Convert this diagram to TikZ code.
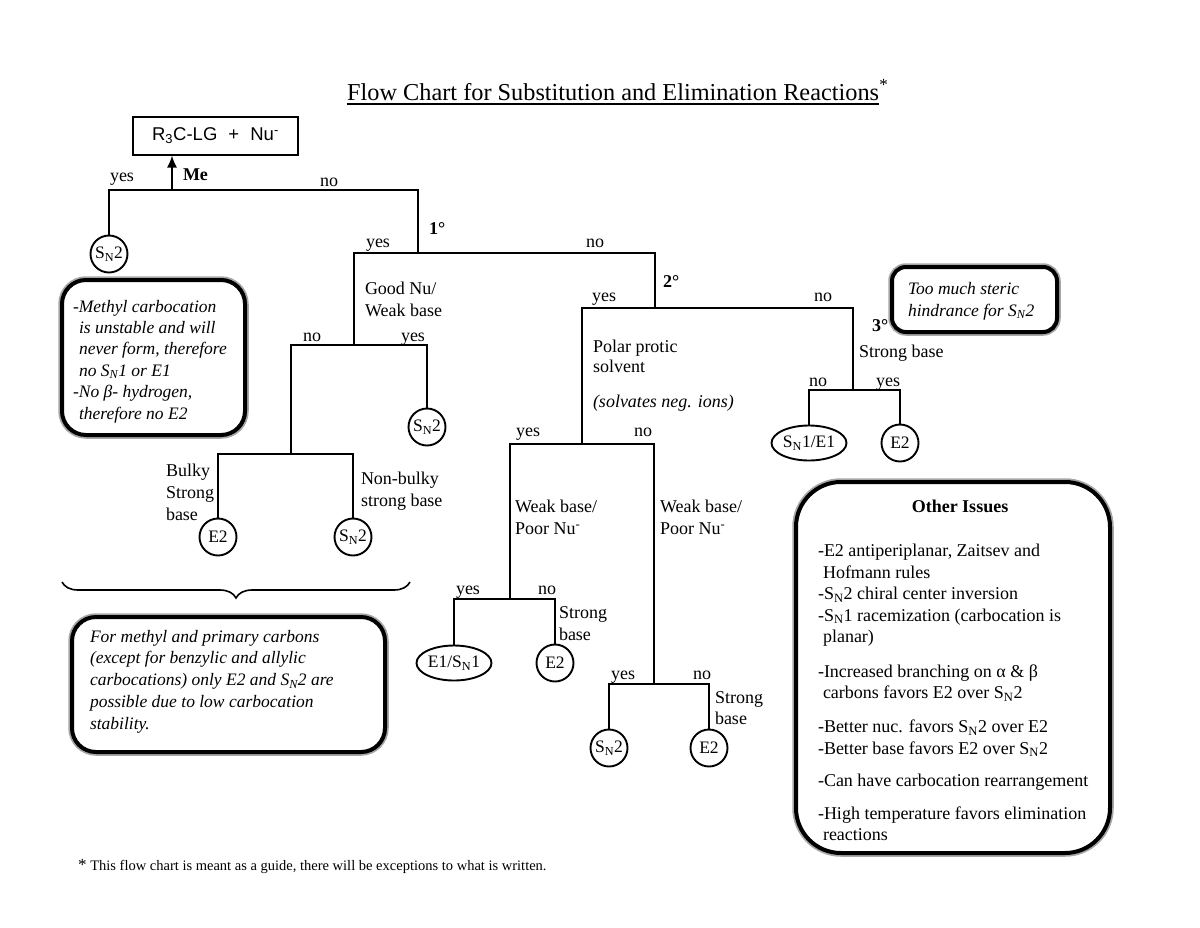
\documentclass[tikz,border=0pt]{standalone}
\usepackage{fontspec}
\setmainfont{Liberation Serif}
\newfontfamily\arialfont{Liberation Sans}
\usetikzlibrary{shapes.geometric,decorations.pathreplacing,arrows.meta,calc}
\begin{document}
\begin{tikzpicture}[x=1pt,y=-1pt,
  conn/.style={line width=1.8pt},
  word/.style={font=\fontsize{18}{21.5}\selectfont, inner sep=0pt, outer sep=0pt, text height=12.5pt, text depth=3.5pt},
  block/.style={font=\fontsize{18}{22}\selectfont, inner sep=0pt, outer sep=0pt, align=left, anchor=north west},
  iblock/.style={font=\fontsize{17.5}{21.6}\selectfont\itshape, inner sep=0pt, outer sep=0pt, align=left, anchor=north west},
  deg/.style={font=\fontsize{18}{21.5}\selectfont\bfseries, inner sep=0pt, outer sep=0pt, anchor=west, text height=12.5pt, text depth=3.5pt},
  res/.style={draw, line width=1.9pt, circle, minimum size=37pt, inner sep=0pt, font=\fontsize{17.5}{18}\selectfont},
  rese/.style={draw, line width=1.9pt, ellipse, minimum width=75pt, minimum height=35pt, inner sep=0pt, font=\fontsize{17.5}{18}\selectfont},
  heavybox/.style={draw=black, line width=4pt, preaction={draw=black!35, line width=7.5pt}, fill=white, inner sep=0pt},
]
\useasboundingbox[fill=white] (0,0) rectangle (1200,927);

% title
\node[font=\fontsize{24.3}{28}\selectfont, anchor=base west, inner sep=0pt] (ttl) at (347,100) {Flow Chart for Substitution and Elimination Reactions};
\node[font=\fontsize{24.3}{28}\selectfont, anchor=base west, inner sep=0pt] (ast) at (ttl.base east) {\textsuperscript{*}};
\draw[line width=1.6pt] ($(ttl.base west)+(0,4)$) -- ($(ttl.base east)+(0,4)$);

% start box
\node[draw, line width=2pt, minimum width=165pt, minimum height=38pt, inner sep=0pt, font=\arialfont\fontsize{18.5}{20}\selectfont] (rbox) at (215.5,135.5) {R\textsubscript{3}C-LG\hspace{0.6em}+\hspace{0.6em}Nu\textsuperscript{-}};

% junctions
\coordinate (me) at (172,190);
\coordinate (c1) at (418,253);
\coordinate (c2a) at (354,345);
\coordinate (c3) at (291,454);
\coordinate (c2) at (655,308);
\coordinate (c4) at (582,444);
\coordinate (c6) at (510,599);
\coordinate (c7) at (654,684);
\coordinate (c5) at (853,390);

% result nodes
\node[res] (sn2a) at (109,254) {S\textsubscript{N}2};
\node[res] (sn2b) at (427,427) {S\textsubscript{N}2};
\node[res] (e2a) at (218,537) {E2};
\node[res] (sn2c) at (353,537) {S\textsubscript{N}2};
\node[rese] (e1sn1) at (454,663) {E1/S\textsubscript{N}1};
\node[res] (e2b) at (555,663) {E2};
\node[res] (sn2d) at (609,748) {S\textsubscript{N}2};
\node[res] (e2c) at (709,748) {E2};
\node[rese] (sn1e1) at (809,443) {S\textsubscript{N}1/E1};
\node[res] (e2d) at (900,443) {E2};

% connectors
\draw[conn, -{Latex[length=12pt,width=10pt]}] (me) -- (me |- rbox.south);
\draw[conn] (sn2a) |- (me) -| (c1);
\draw[conn] (c2a) |- (c1) -| (c2);
\draw[conn] (c3) |- (c2a) -| (sn2b);
\draw[conn] (e2a) |- (c3) -| (sn2c);
\draw[conn] (c4) |- (c2) -| (c5);
\draw[conn] (c6) |- (c4) -| (c7);
\draw[conn] (e1sn1) |- (c6) -| (e2b);
\draw[conn] (sn2d) |- (c7) -| (e2c);
\draw[conn] (sn1e1) |- (c5) -| (e2d);

% labels
\node[word] (l1) at (122,177) {yes};
\node[deg] (lme) at (183,176) {Me};
\node[word] (l2) at (329,182) {no};
\node[deg] (d1) at (429,230) {1°};
\node[word] (l3) at (378,243) {yes};
\node[word] (l4) at (595,243) {no};
\node[block] (gnu) at (365,282) {Good Nu/\\Weak base};
\node[word] (l5) at (312,337) {no};
\node[word] (l6) at (413,337) {yes};
\node[block] (bulky) at (166,464) {Bulky\\Strong\\base};
\node[block] (nonb) at (361,472) {Non-bulky\\strong base};
\node[deg] (d2) at (663,283) {2°};
\node[word] (l7) at (604,297) {yes};
\node[word] (l8) at (823,297) {no};
\node[block, font=\fontsize{18}{20}\selectfont] (ppro) at (593,340) {Polar protic\\solvent};
\node[word, anchor=west, font=\fontsize{18}{21.5}\selectfont\itshape] (solv) at (593,403) {(solvates neg. ions)};
\node[word] (l9) at (528,432) {yes};
\node[word] (l10) at (643,432) {no};
\node[block] (wb1) at (515,500) {Weak base/\\Poor Nu\textsuperscript{-}};
\node[block] (wb2) at (660,500) {Weak base/\\Poor Nu\textsuperscript{-}};
\node[word] (l11) at (468,590) {yes};
\node[word] (l12) at (547,590) {no};
\node[block] (sb1) at (559,607) {Strong\\base};
\node[word] (l13) at (623,675) {yes};
\node[word] (l14) at (702,675) {no};
\node[block, font=\fontsize{18}{21}\selectfont] (sb2) at (715,692) {Strong\\base};
\node[deg] (d3) at (872,327) {3°};
\node[word, anchor=west] (sb3) at (859,353) {Strong base};
\node[word] (l15) at (818,382) {no};
\node[word] (l16) at (888,382) {yes};

% methyl box
\node[heavybox, rounded corners=24pt, minimum width=183pt, minimum height=155pt] (mbox) at (153.5,357.5) {};
\node[iblock, font=\fontsize{17.5}{21.4}\selectfont\itshape] (mtxt) at (73,300) {-Methyl carbocation\\
\hspace*{6pt}is unstable and will\\
\hspace*{6pt}never form, therefore\\
\hspace*{6pt}no S\textsubscript{N}1 or E1\\
-No β- hydrogen,\\
\hspace*{6pt}therefore no E2};

% brace
\draw[line width=1.6pt, decorate, decoration={brace, mirror, amplitude=16pt}] (62,582) -- (410,582);

% bottom italic box
\node[heavybox, rounded corners=24pt, minimum width=313pt, minimum height=135pt] (pbox) at (228.5,684.5) {};
\node[iblock, font=\fontsize{17.5}{21.75}\selectfont\itshape] (ptxt) at (90,630) {For methyl and primary carbons\\
(except for benzylic and allylic\\
carbocations) only E2 and S\textsubscript{N}2 are\\
possible due to low carbocation\\
stability.};

% steric box
\node[heavybox, rounded corners=14pt, minimum width=165pt, minimum height=65pt] (sbox) at (974.5,299.5) {};
\node[iblock, font=\fontsize{17.5}{22}\selectfont\itshape] (stxt) at (908,282) {Too much steric\\hindrance for S\textsubscript{N}2};

% other issues box
\node[heavybox, rounded corners=45pt, minimum width=314pt, minimum height=371pt] (obox) at (953,667.5) {};
\node[word, font=\fontsize{18}{21.5}\selectfont\bfseries] (otitle) at (960,508) {Other Issues};
\node[block, font=\fontsize{18}{21.5}\selectfont] (otxt) at (818,544) {-E2 antiperiplanar, Zaitsev and\\
\hspace*{5pt}Hofmann rules\\
-S\textsubscript{N}2 chiral center inversion\\
-S\textsubscript{N}1 racemization (carbocation is\\
\hspace*{5pt}planar)\\[13pt]
-Increased branching on α \& β\\
\hspace*{5pt}carbons favors E2 over S\textsubscript{N}2\\[12.5pt]
-Better nuc. favors S\textsubscript{N}2 over E2\\
-Better base favors E2 over S\textsubscript{N}2\\[10.5pt]
-Can have carbocation rearrangement\\[11.5pt]
-High temperature favors elimination\\
\hspace*{5pt}reactions};

% footnote
\node[font=\fontsize{14.5}{17}\selectfont, anchor=base west, inner sep=0pt] (foot) at (78,870) {{\fontsize{17}{17}\selectfont *}\ This flow chart is meant as a guide, there will be exceptions to what is written.};
\end{tikzpicture}
\end{document}
